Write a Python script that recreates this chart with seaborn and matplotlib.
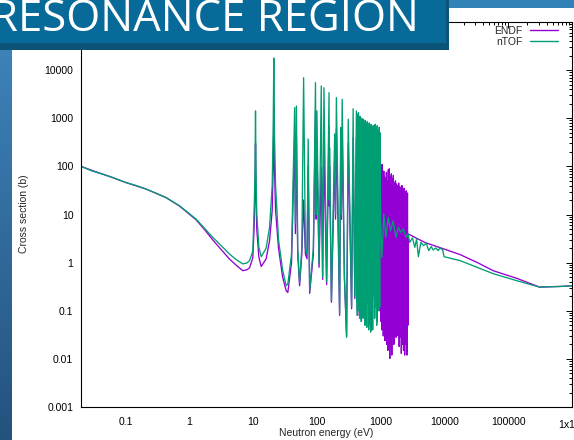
import matplotlib
matplotlib.use("Agg")
import numpy as np
import pandas as pd
import seaborn as sns
import matplotlib.pyplot as plt
from matplotlib.ticker import FixedLocator, FixedFormatter, NullFormatter
from matplotlib.patches import Rectangle
from matplotlib.lines import Line2D
from matplotlib.colors import LinearSegmentedColormap

# ---------------- data ----------------
series_names = ["ENDF", "nTOF"]
series_colors = ["#9400D3", "#009E73"]

endf_energy = [
    0.02, 0.03, 0.045, 0.0622, 0.1, 0.15, 0.209, 0.3, 0.43, 0.7, 1.0, 1.27, 1.7, 2.33, 3.2,
    4.25, 5.5, 6.89, 8.0, 8.77, 9.5, 9.9,
    10.4, 10.7, 10.9, 11.1, 11.4, 12.3, 13.4, 16.0, 18.1, 19.9, 20.6, 21.1, 21.6, 22.5, 25.0,
    29.0, 33.0, 35.0, 40.0,
    44.8, 46.0, 47.7, 50.0, 53.5, 58.0, 61.9, 66.0, 70.0, 73.0, 77.0, 88.0, 95.0, 97.5, 100,
    108, 117, 123, 129, 142, 155, 156.5, 158, 169, 190, 196, 202, 227, 236, 242, 249, 270,
    292, 310, 350, 370, 393, 416,
    430, 445, 460, 480, 500, 520, 545, 570, 600, 630, 660, 690, 720, 760, 800, 840, 880,
    930, 960,
    980, 990, 1000, 1012, 1025, 1040, 1055, 1070, 1085, 1100, 1118, 1135, 1152, 1170, 1190,
    1210, 1230, 1250, 1272, 1295, 1318, 1340, 1365, 1390, 1415, 1440, 1467, 1495, 1522,
    1550, 1580, 1610, 1640, 1672, 1705, 1738, 1772, 1806, 1842, 1878, 1915, 1953, 1990,
    2030, 2070, 2110, 2150, 2195, 2240, 2285, 2330, 2378, 2425, 2475, 2525, 2578, 2630,
    2680, 2700,
    5000, 9500, 17600, 33000, 58000, 137000, 310000, 660000, 1000000,
]
endf_xs = [
    100, 82, 68, 58.8, 46.4, 39, 33.8, 27.6, 22.4, 15.0, 10.1, 7.8, 5.0, 2.96, 1.83,
    1.19, 0.87, 0.68, 0.71, 0.78, 1.06, 1.29,
    6, 30, 300, 30, 5, 1.3, 0.83, 1.2, 2.86, 12, 90, 1800, 90, 12, 2.0,
    0.5, 0.26, 0.24, 1.0,
    400, 4, 400, 1.5, 0.33, 1.5, 20, 1.5, 1.2, 100, 0.23, 1.5, 1400, 8, 300,
    0.8, 95, 0.45, 210, 0.35, 700, 15, 100, 0.15, 150, 8, 600, 0.08, 200, 8, 500, 0.5,
    0.03, 300, 0.11, 400, 0.18, 400,
    0.1, 400, 0.08, 350, 0.06, 300, 0.1, 300, 0.05, 250, 0.05, 250, 0.04, 200, 0.07, 200, 0.06,
    150, 0.1,
    113, 0.1, 100, 0.06, 90, 0.04, 110, 0.08, 70, 0.03, 80, 0.05, 60, 0.024, 58,
    0.04, 75, 0.02, 50, 0.015, 85, 0.03, 89, 0.0102, 60, 0.02, 70, 0.012, 55,
    0.03, 65, 0.02, 45, 0.04, 50, 0.028, 43, 0.05, 40, 0.03, 45, 0.018, 38,
    0.028, 35, 0.013, 40, 0.02, 31, 0.015, 35, 0.012, 30, 0.02, 31, 0.012, 28,
    0.05, 3.94,
    2.6, 1.95, 1.47, 1.0, 0.68, 0.47, 0.31, 0.32, 0.33,
]

ntof_energy = [
    0.02, 0.03, 0.045, 0.0622, 0.1, 0.15, 0.209, 0.3, 0.43, 0.7, 1.0, 1.27, 1.7, 2.33, 3.2,
    4.25, 5.5, 6.89, 8.0, 8.77, 9.5, 9.9,
    10.4, 10.7, 10.9, 11.1, 11.4, 12.3, 13.4, 16.0, 18.1, 19.9, 20.6, 21.1, 21.6, 22.5, 25.0,
    29.0, 33.0, 35.0, 40.0,
    44.8, 46.0, 47.7, 50.0, 53.5, 58.0, 61.9, 66.0, 70.0, 73.0, 77.0, 88.0, 95.0, 97.5, 100,
    108, 117, 123, 129, 142, 155, 156.5, 158, 169, 190, 196, 202, 227, 236, 242, 249, 270,
    292, 310, 350, 370, 393, 416,
    420, 425, 430, 436, 442, 448, 455, 461, 468, 475, 482, 489, 497, 505, 513, 521, 529,
    538, 547, 556, 565, 575, 585, 595, 605, 616, 627, 638, 649, 661, 673, 685, 697, 710,
    723, 736, 749, 763, 777, 791, 805, 820, 835, 850, 866, 882, 898, 915, 932, 950, 965, 975,
    996, 1045, 1120, 1205, 1315, 1430, 1570, 1740, 1890, 2060, 2270, 2500, 2700, 2850,
    3150, 3430, 3660, 3900, 4270, 4700, 5200, 5670, 6200, 6680, 7300, 7950, 8520, 9400,
    9850, 17600, 33000, 58000, 137000, 310000, 660000, 1000000,
]
ntof_xs = [
    100, 80, 68, 58.8, 46.4, 39.6, 33.8, 27.6, 22.6, 15.2, 10.4, 8.06, 5.3, 3.35, 2.22,
    1.51, 1.14, 0.94, 0.985, 1.1, 1.47, 1.77,
    14, 80, 1420, 80, 10.4, 2.08, 1.33, 2.0, 5.4, 40, 500, 17800, 500, 40, 3.0,
    0.7, 0.33, 0.36, 1.5,
    1660, 6.4, 1800, 2.0, 0.38, 2.0, 6960, 2.0, 1.5, 370, 0.26, 2.0, 5500, 10, 1420,
    0.95, 4700, 0.5, 4300, 0.4, 3400, 20, 246, 0.16, 475, 10, 2700, 0.087, 640, 10, 2480, 0.5,
    0.028, 955, 0.12, 1580, 0.2, 1420,
    0.15, 1200, 0.08, 900, 0.2, 1300, 0.1, 1000, 0.07, 1100, 0.3, 850, 0.06, 1000, 0.12, 800, 0.07,
    950, 0.2, 700, 0.05, 900, 0.1, 750, 0.045, 850, 0.15, 650, 0.04, 800, 0.08, 700, 0.036, 750,
    0.1, 600, 0.04, 700, 0.2, 650, 0.07, 750, 0.12, 600, 0.05, 700, 0.15, 550, 0.1, 650, 0.12, 500,
    8.7, 1.29, 10.3, 3.35, 8.7, 4.6, 7.4, 3.35, 5.4, 4.25, 5.0, 3.35, 3.94, 2.64,
    3.26, 2.08, 3.1, 1.33, 2.64, 2.25, 2.52, 1.77, 2.15, 1.83, 2.02, 1.77, 2.02, 1.83,
    1.33, 1.1, 0.79, 0.59, 0.42, 0.31, 0.32, 0.33,
]

x_ticks = [0.1, 1, 10, 100, 1000, 10000, 100000, 1000000]
x_tick_labels = ["0.1", "1", "10", "100", "1000", "10000", "100000", "1x10$^{6}$"]
y_ticks = [0.001, 0.01, 0.1, 1, 10, 100, 1000, 10000, 100000]
y_tick_labels = ["0.001", "0.01", "0.1", "1", "10", "100", "1000", "10000", ""]

title_text = "RESONANCE REGION"
x_label = "Neutron energy (eV)"
y_label = "Cross section (b)"

# ---------------- figure ----------------
sns.set_style("white")
plt.rcParams["font.family"] = ["Liberation Sans", "DejaVu Sans"]

W, H = 574, 440
fig = plt.figure(figsize=(W / 100, H / 100), dpi=100)
fig.patch.set_facecolor("white")

ax_l, ax_r, ax_t, ax_b = 81, 572, 22, 407
ax = fig.add_axes([ax_l / W, 1 - ax_b / H, (ax_r - ax_l) / W, (ax_b - ax_t) / H])

df = pd.concat([
    pd.DataFrame({"E": endf_energy, "xs": endf_xs, "series": series_names[0]}),
    pd.DataFrame({"E": ntof_energy, "xs": ntof_xs, "series": series_names[1]}),
], ignore_index=True)

sns.lineplot(data=df, x="E", y="xs", hue="series", hue_order=series_names,
             palette=dict(zip(series_names, series_colors)), estimator=None,
             sort=False, errorbar=None, linewidth=0.95, legend=False, ax=ax)

ax.set_xscale("log")
ax.set_yscale("log")
ax.set_xlim(0.02, 1e6)
ax.set_ylim(0.001, 1e5)

ax.xaxis.set_major_locator(FixedLocator(x_ticks))
ax.xaxis.set_major_formatter(FixedFormatter(x_tick_labels))
ax.yaxis.set_major_locator(FixedLocator(y_ticks))
ax.yaxis.set_major_formatter(FixedFormatter(y_tick_labels))
xminor = [m * 10.0 ** d for d in range(-2, 6) for m in range(2, 10) if 0.02 <= m * 10.0 ** d <= 1e6]
yminor = [m * 10.0 ** d for d in range(-3, 5) for m in range(2, 10)]
ax.xaxis.set_minor_locator(FixedLocator(xminor))
ax.yaxis.set_minor_locator(FixedLocator(yminor))
ax.xaxis.set_minor_formatter(NullFormatter())
ax.yaxis.set_minor_formatter(NullFormatter())

ax.tick_params(which="both", direction="in", top=True, right=True, colors="black",
               labelsize=7.5, width=0.7)
ax.tick_params(which="major", length=4.5)
ax.tick_params(which="minor", length=2.5)
ax.tick_params(axis="y", pad=5.5)
ax.tick_params(axis="x", pad=7)
for s in ax.spines.values():
    s.set_color("black")
    s.set_linewidth(0.8)

ax.set_xlabel(x_label, fontsize=7.5)
ax.set_ylabel(y_label, fontsize=7.5)
ax.xaxis.set_label_coords(0.5, -(433 - ax_b) / (ax_b - ax_t))
ax.yaxis.set_label_coords(-(ax_l - 24) / (ax_r - ax_l), 0.5 - (214 - (ax_t + ax_b) / 2) / (ax_b - ax_t))
ax.xaxis.label.set_va("center")
ax.yaxis.label.set_va("center")

handles = [Line2D([], [], color=c, lw=1.0) for c in series_colors]
ax.legend(handles, series_names, loc="upper right", frameon=False, markerfirst=False,
          fontsize=7.5, handlelength=2.7, handletextpad=0.7, labelspacing=0.1,
          borderpad=0, borderaxespad=0,
          bbox_to_anchor=((558 - ax_l) / (ax_r - ax_l), 1 - (26 - ax_t) / (ax_b - ax_t)))

# ---------------- slide decorations (overlay) ----------------
ov = fig.add_axes([0, 0, 1, 1], zorder=10)
ov.set_xlim(0, W)
ov.set_ylim(H, 0)
ov.axis("off")
ov.patch.set_alpha(0)

grad = np.linspace(0, 1, 256).reshape(-1, 1)
cmap = LinearSegmentedColormap.from_list("strip", ["#3D82B8", "#24527E"])
ov.imshow(grad, cmap=cmap, extent=[0, 12, H, 50], aspect="auto", zorder=1)
ov.add_patch(Rectangle((449, 0), W - 449, 8, facecolor="#3282B8", edgecolor="none", zorder=1))
ov.add_patch(Rectangle((0, 0), 449, 50, facecolor="#0B5478", edgecolor="none", zorder=2))
ov.add_patch(Rectangle((0, 0), 446, 43, facecolor="#086A98", edgecolor="none", zorder=3))
ov.text(419, 31, title_text, color="white", fontsize=31.5, ha="right", va="baseline",
        family=["Open Sans", "DejaVu Sans"], zorder=4)
ov.set_xlim(0, W)
ov.set_ylim(H, 0)

fig.savefig("out.png", dpi=100)
